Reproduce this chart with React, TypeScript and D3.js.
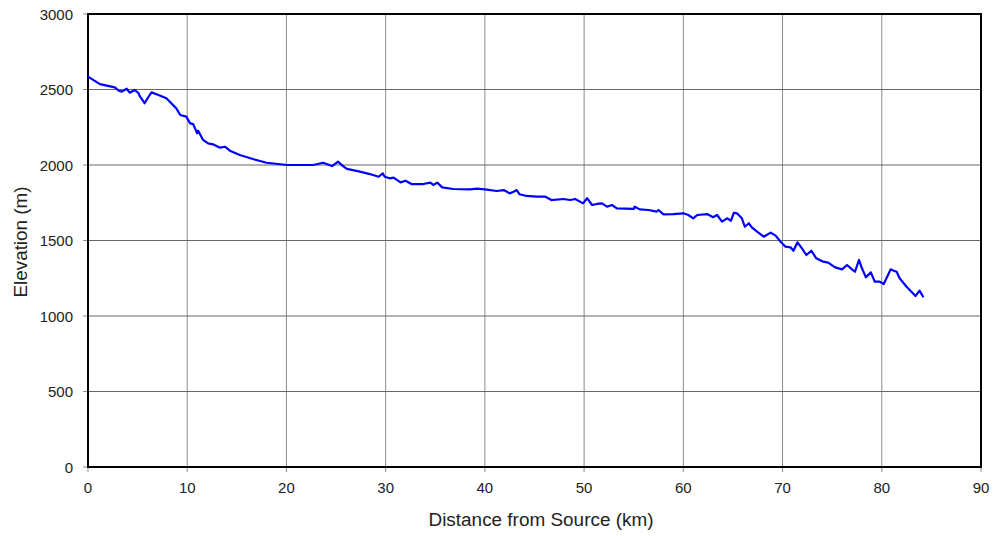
import React from "react";
import * as d3 from "d3";

const distanceKm: number[] = [
  0, 1.2, 2.7, 3.1, 3.4, 3.9, 4.2, 4.7, 5.1, 5.2, 5.7, 6.1, 6.4, 7.1, 7.9, 8.9, 9.3, 9.9, 10.3, 10.6,
  11.0, 11.1, 11.6, 12.1, 12.6, 13.3, 13.8, 14.3, 15.3, 16.7, 18.0, 19.4, 20.0, 22.7, 23.7, 24.6,
  25.2, 25.7, 26.1, 27.4, 28.4, 29.3, 29.7, 29.9, 30.4, 30.8, 31.5, 32.0, 32.6, 33.8, 34.5, 34.8,
  35.2, 35.7, 36.8, 38.5, 39.2, 40.0, 41.2, 41.9, 42.5, 42.9, 43.2, 43.5, 44.2, 45.2, 46.1, 46.7,
  47.9, 48.6, 49.1, 49.9, 50.3, 50.8, 51.3, 51.8, 52.3, 52.8, 53.3, 55.0, 55.1, 55.6, 56.5, 57.3,
  57.5, 58.0, 59.0, 60.0, 60.5, 61.0, 61.4, 62.4, 63.0, 63.4, 63.9, 64.4, 64.8, 65.1, 65.4, 65.9,
  66.2, 66.6, 66.9, 67.4, 68.1, 68.8, 69.3, 69.8, 70.3, 70.8, 71.1, 71.5, 71.9, 72.4, 72.9, 73.4,
  74.1, 74.6, 75.3, 76.0, 76.5, 77.0, 77.3, 77.7, 78.0, 78.4, 78.9, 79.3, 79.8, 80.2, 80.9, 81.2,
  81.5, 81.8, 82.5, 83.4, 83.8, 84.2,
];

const elevationM: number[] = [
  2585, 2536, 2514, 2492, 2486, 2505, 2479, 2497, 2475, 2457, 2409, 2452, 2481, 2464, 2442, 2375, 2331, 2320, 2276, 2271,
  2210, 2227, 2166, 2143, 2137, 2115, 2121, 2095, 2066, 2038, 2015, 2005, 2000, 2000, 2015, 1993,
  2022, 1993, 1974, 1956, 1940, 1922, 1945, 1922, 1912, 1916, 1885, 1896, 1874, 1874, 1883, 1868,
  1883, 1852, 1841, 1839, 1843, 1839, 1828, 1834, 1812, 1823, 1834, 1806, 1795, 1790, 1790, 1768,
  1775, 1768, 1775, 1746, 1780, 1735, 1742, 1746, 1724, 1735, 1713, 1709, 1724, 1706, 1702, 1691,
  1702, 1673, 1675, 1680, 1669, 1647, 1669, 1675, 1654, 1669, 1625, 1647, 1631, 1684, 1680, 1647,
  1591, 1614, 1587, 1560, 1525, 1552, 1532, 1492, 1459, 1455, 1432, 1488, 1453, 1404, 1432, 1382,
  1360, 1353, 1322, 1309, 1338, 1309, 1293, 1371, 1316, 1256, 1289, 1227, 1227, 1212, 1309, 1300,
  1293, 1250, 1194, 1132, 1168, 1124,
];

const xTicks: number[] = [0, 10, 20, 30, 40, 50, 60, 70, 80, 90];
const yTicks: number[] = [0, 500, 1000, 1500, 2000, 2500, 3000];

const W = 1000;
const H = 536;
const M = { left: 88, top: 14, right: 981, bottom: 467 };

export default function App() {
  const x = d3.scaleLinear().domain([0, 90]).range([M.left, M.right]);
  const y = d3.scaleLinear().domain([0, 3000]).range([M.bottom, M.top]);
  const pts: [number, number][] = distanceKm.map((d, i) => [d, elevationM[i]]);
  const line = d3
    .line<[number, number]>()
    .x((d) => x(d[0]))
    .y((d) => y(d[1]));
  const font = "'Liberation Sans', Arial, sans-serif";

  return (
    <svg
      width={W}
      height={H}
      style={{ position: "absolute", left: 0, top: 0, background: "#fff" }}
      fontFamily={font}
    >
      {xTicks.map((t) => (
        <g key={"x" + t}>
          <line x1={x(t)} x2={x(t)} y1={M.top} y2={M.bottom} stroke="#8c8c8c" strokeWidth={1} />
          <line x1={x(t)} x2={x(t)} y1={M.bottom} y2={M.bottom + 5} stroke="#8c8c8c" strokeWidth={1} />
          <text x={x(t)} y={M.bottom + 26} textAnchor="middle" fontSize={15} fill="#222">
            {t}
          </text>
        </g>
      ))}
      {yTicks.map((t) => (
        <g key={"y" + t}>
          <line x1={M.left} x2={M.right} y1={y(t)} y2={y(t)} stroke="#666" strokeWidth={1} />
          <line x1={M.left - 5} x2={M.left} y1={y(t)} y2={y(t)} stroke="#8c8c8c" strokeWidth={1} />
          <text x={M.left - 15} y={y(t) + 5.5} textAnchor="end" fontSize={15} fill="#222">
            {t}
          </text>
        </g>
      ))}
      <rect
        x={M.left}
        y={M.top}
        width={M.right - M.left}
        height={M.bottom - M.top}
        fill="none"
        stroke="#000"
        strokeWidth={2}
      />
      <path d={line(pts) || ""} fill="none" stroke="#0000ff" strokeWidth={2.2} strokeLinejoin="round" />
      <text
        x={541}
        y={526}
        textAnchor="middle"
        fontSize={18}
        fill="#222"
        textLength={225}
        lengthAdjust="spacingAndGlyphs"
      >
        Distance from Source (km)
      </text>
      <text
        transform={`translate(27, 242) rotate(-90)`}
        textAnchor="middle"
        fontSize={18}
        fill="#222"
        textLength={111}
        lengthAdjust="spacingAndGlyphs"
      >
        Elevation (m)
      </text>
    </svg>
  );
}
